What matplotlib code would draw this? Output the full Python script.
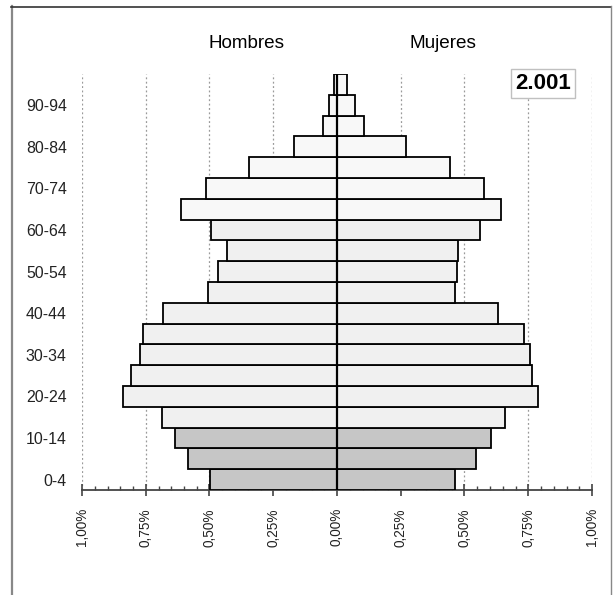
import matplotlib
matplotlib.use("Agg")
import matplotlib.pyplot as plt
from matplotlib.lines import Line2D
import numpy as np

plt.rcParams['font.family'] = ['Liberation Sans', 'DejaVu Sans']

age_groups = ["0-4", "5-9", "10-14", "15-19", "20-24", "25-29", "30-34", "35-39",
              "40-44", "45-49", "50-54", "55-59", "60-64", "65-69", "70-74",
              "75-79", "80-84", "85-89", "90-94", "95+"]
men = [0.497, 0.583, 0.637, 0.686, 0.841, 0.807, 0.774, 0.762, 0.684, 0.504,
       0.468, 0.431, 0.493, 0.612, 0.513, 0.344, 0.167, 0.053, 0.031, 0.013]
women = [0.464, 0.546, 0.605, 0.659, 0.787, 0.766, 0.755, 0.735, 0.630, 0.461,
         0.472, 0.474, 0.562, 0.643, 0.575, 0.442, 0.269, 0.104, 0.072, 0.039]
x_ticks = [-1.0, -0.75, -0.5, -0.25, 0.0, 0.25, 0.5, 0.75, 1.0]
x_tick_labels = ["1,00%", "0,75%", "0,50%", "0,25%", "0,00%", "0,25%", "0,50%", "0,75%", "1,00%"]
year_label = "2.001"

W, H = 615, 595
fig = plt.figure(figsize=(W / 100, H / 100), dpi=100)
ax = fig.add_axes([82 / W, 1 - 490 / H, (592 - 82) / W, (490 - 74) / H])

def color_for(i):
    if i <= 2:
        return "#c6c6c6"
    if i <= 12:
        return "#f0f0f0"
    return "#f8f8f8"

y = np.arange(len(age_groups))
colors = [color_for(i) for i in y]
ax.barh(y, [-m for m in men], height=1.0, color=colors, edgecolor="black", linewidth=1.3, zorder=3)
ax.barh(y, women, height=1.0, color=colors, edgecolor="black", linewidth=1.3, zorder=3)

ax.axvline(0, color="black", linewidth=1.6, zorder=4)

for xv in x_ticks:
    if xv != 0:
        ax.axvline(xv, color="#9a9a9a", linestyle=(0, (1.5, 2.0)), linewidth=0.9, zorder=1)

ax.set_xlim(-1.0, 1.0)
ax.set_ylim(-0.5, len(age_groups) - 0.5)

ax.set_xticks(x_ticks)
ax.set_xticklabels(x_tick_labels, rotation=90, fontsize=9.8, color="#222222")
ax.set_xticks(np.arange(-1.0, 1.0001, 0.05), minor=True)
ax.tick_params(axis="x", which="major", direction="inout", length=8, width=1.2,
               color="#444444", pad=9)
ax.tick_params(axis="x", which="minor", direction="in", length=3, width=1.0,
               color="#444444")

ax.set_yticks(y[::2])
ax.set_yticklabels(age_groups[::2], fontsize=11.4, color="#222222")
ax.tick_params(axis="y", which="both", length=0, pad=11)

for s in ["left", "right", "top"]:
    ax.spines[s].set_visible(False)
ax.spines["bottom"].set_color("#444444")
ax.spines["bottom"].set_linewidth(1.3)

fig.text(247 / W, 1 - 44 / H, "Hombres", ha="center", va="center", fontsize=13.6)
fig.text(443 / W, 1 - 44 / H, "Mujeres", ha="center", va="center", fontsize=13.6)

fig.text(543 / W, 1 - 84 / H, year_label, ha="center", va="center", fontsize=16,
         fontweight="bold",
         bbox=dict(boxstyle="square,pad=0.18", facecolor="white", edgecolor="#c0c0c0", linewidth=1.0))

# outer frame
fig.add_artist(Line2D([11.5 / W, 11.5 / W], [1 - 6 / H, 0], transform=fig.transFigure,
                      color="#888888", linewidth=1.6))
fig.add_artist(Line2D([11 / W, 611 / W], [1 - 6.5 / H, 1 - 6.5 / H], transform=fig.transFigure,
                      color="#333333", linewidth=1.2))
fig.add_artist(Line2D([611 / W, 611 / W], [1 - 6 / H, 0], transform=fig.transFigure,
                      color="#888888", linewidth=1.0))

fig.savefig("out.png", dpi=100, facecolor="white")
